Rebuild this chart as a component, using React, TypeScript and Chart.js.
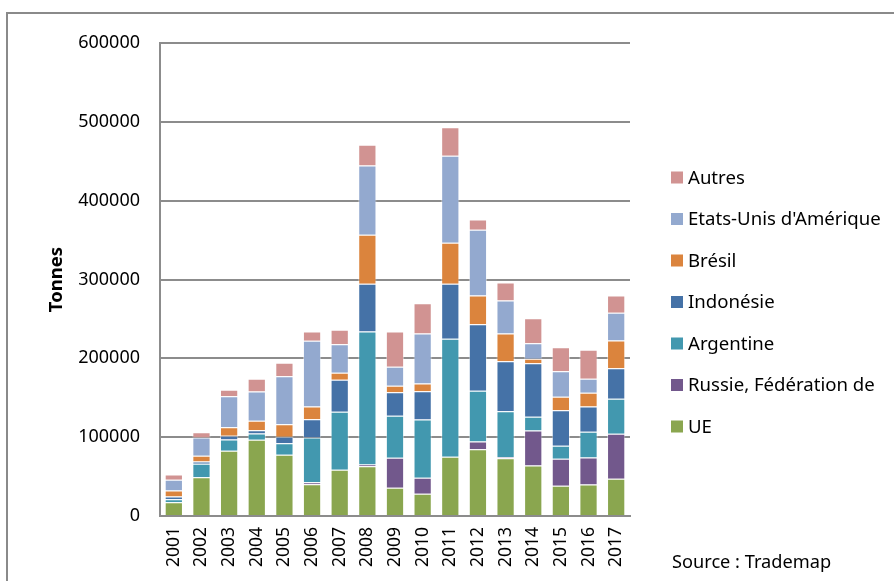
import React, { useEffect, useRef } from "react";
import { Chart, registerables } from "chart.js";

Chart.register(...registerables);

const years = ["2001", "2002", "2003", "2004", "2005", "2006", "2007", "2008", "2009", "2010", "2011", "2012", "2013", "2014", "2015", "2016", "2017"];

const ue = [17500, 49200, 82700, 96600, 77600, 40400, 58600, 63200, 35800, 28200, 75100, 84700, 73300, 64100, 38300, 40000, 47200];
const russie = [0, 0, 0, 0, 0, 2500, 0, 2100, 38000, 20300, 0, 9800, 1300, 44400, 34300, 34200, 57100];
const argentine = [3800, 17000, 14300, 8100, 14800, 56700, 73600, 168700, 53300, 73900, 149700, 64300, 58400, 17300, 16400, 32600, 44400];
const indonesie = [3400, 2900, 4700, 4100, 8000, 23200, 40600, 60500, 29900, 35900, 69700, 84500, 63400, 68000, 45200, 32100, 38800];
const bresil = [7600, 7200, 11000, 11900, 16100, 16100, 8800, 62200, 8200, 9800, 52100, 36400, 35100, 5600, 17000, 17400, 35100];
const etatsUnis = [13600, 23300, 39300, 37200, 60800, 83300, 36400, 87900, 24100, 63400, 110300, 83300, 41900, 19800, 32500, 17700, 35200];
const autres = [6700, 6700, 8100, 16100, 17000, 11800, 18200, 26300, 44700, 38500, 36300, 13100, 22800, 31700, 30400, 36800, 21900];

const seriesNames = ["UE", "Russie, Fédération de", "Argentine", "Indonésie", "Brésil", "Etats-Unis d'Amérique", "Autres"];
const seriesColors = ["#8AA64F", "#72588C", "#4298AF", "#4572A7", "#DB843D", "#93A9CF", "#D19392"];
const seriesData = [ue, russie, argentine, indonesie, bresil, etatsUnis, autres];

const FONT = "'Noto Sans', sans-serif";

const legendPlugin = {
  id: "customLegend",
  afterDraw(chart: any) {
    const ctx = chart.ctx;
    ctx.save();
    ctx.font = `18.6px ${FONT}`;
    ctx.textBaseline = "middle";
    ctx.textAlign = "left";
    const n = chart.data.datasets.length;
    for (let k = 0; k < n; k++) {
      const ds = chart.data.datasets[n - 1 - k];
      const cy = 177.5 + 41.5 * k;
      ctx.fillStyle = ds.backgroundColor;
      ctx.fillRect(671, cy - 6, 12, 12);
      ctx.fillStyle = "#000";
      ctx.fillText(ds.label, 688, cy + 1);
    }
    ctx.font = `18.2px ${FONT}`;
    ctx.fillText("Source : Trademap", 672, 563);
    ctx.restore();
  },
};

export default function App() {
  const ref = useRef<HTMLCanvasElement>(null);
  useEffect(() => {
    const chart = new Chart(ref.current!, {
      type: "bar",
      data: {
        labels: years,
        datasets: seriesData.map((d, i) => ({
          label: seriesNames[i],
          data: d,
          backgroundColor: seriesColors[i],
          borderColor: "rgba(255,255,255,0.45)",
          borderWidth: 1,
          barPercentage: 0.66,
          categoryPercentage: 1,
        })),
      },
      options: {
        responsive: false,
        animation: false,
        layout: { padding: { top: 43, right: 264, bottom: 0, left: 0 } },
        plugins: { legend: { display: false }, tooltip: { enabled: false } },
        scales: {
          x: {
            stacked: true,
            grid: { display: false, drawTicks: false },
            border: { color: "#8c8c8c", width: 2 },
            ticks: { minRotation: 90, maxRotation: 90, padding: 11, color: "#000", font: { family: FONT, size: 17.5 } },
            afterFit: (s: any) => {
              s.height = 65;
            },
          },
          y: {
            stacked: true,
            min: 0,
            max: 600000,
            ticks: {
              stepSize: 100000,
              padding: 20,
              color: "#000",
              font: { family: FONT, size: 18 },
              callback: (v: any) => String(v),
            },
            grid: { color: "#8c8c8c", lineWidth: 2, drawTicks: false },
            border: { color: "#8c8c8c", width: 2 },
            title: {
              display: true,
              text: "Tonnes",
              color: "#000",
              font: { family: FONT, size: 18.5, weight: "bold" },
              padding: { top: 46, bottom: 0 },
            },
            afterFit: (s: any) => {
              s.width = 160;
            },
          },
        },
      },
      plugins: [legendPlugin],
    });
    return () => chart.destroy();
  }, []);
  return (
    <div style={{ position: "absolute", left: 0, top: 0, width: 894, height: 581, overflow: "hidden", background: "#fff" }}>
      <canvas ref={ref} width={894} height={581} style={{ position: "absolute", left: 0, top: 0 }} />
      <div
        style={{
          position: "absolute",
          left: 6,
          top: 12,
          width: 1000,
          height: 1000,
          borderTop: "2px solid #8a8a8a",
          borderLeft: "2px solid #8a8a8a",
        }}
      />
    </div>
  );
}
